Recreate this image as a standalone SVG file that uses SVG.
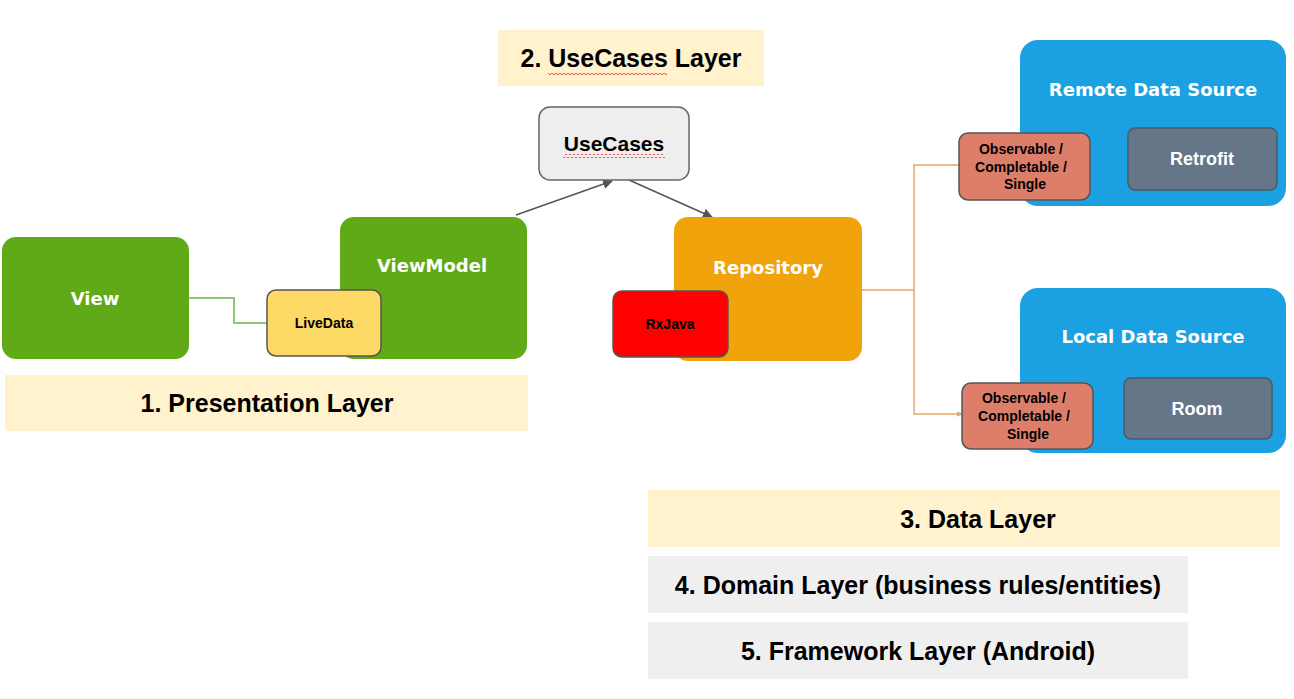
<svg xmlns="http://www.w3.org/2000/svg" width="1294" height="699" viewBox="0 0 1294 699">
<style>
.band{fill:#fff2cc}
.gband{fill:#efefef}
.lt{font-family:"Liberation Sans",Arial,sans-serif;font-weight:bold;font-size:25px;fill:#000;text-anchor:middle;dominant-baseline:central}
.nt{font-family:"DejaVu Sans",Verdana,sans-serif;font-weight:bold;font-size:18px;fill:#fff;text-anchor:middle;dominant-baseline:central}
.st{font-family:"Liberation Sans",Arial,sans-serif;font-weight:bold;font-size:14px;fill:#000;text-anchor:middle;dominant-baseline:central}
.wt{font-family:"Liberation Sans",Arial,sans-serif;font-weight:bold;font-size:18px;fill:#fff;text-anchor:middle;dominant-baseline:central}
.green{fill:#60a917}
.orange{fill:#f0a30a}
.blue{fill:#1ba1e2}
.slate{fill:#647687;stroke:#4d5a66;stroke-width:1.5}
.obs{fill:#dd7e6b;stroke:#555;stroke-width:1.5}
.arrow{fill:none;stroke:#555;stroke-width:1.5}
</style>
<defs>
<marker id="ah" viewBox="0 0 10 10" refX="9" refY="5" markerWidth="10" markerHeight="10" orient="auto" markerUnits="userSpaceOnUse">
<path d="M0,0 L10,5 L0,10 z" fill="#555"/>
</marker>
<marker id="ahO" viewBox="0 0 10 10" refX="9" refY="5" markerWidth="6" markerHeight="6" orient="auto" markerUnits="userSpaceOnUse">
<path d="M0,0 L10,5 L0,10 z" fill="#e3a66a"/>
</marker>
<pattern id="squig" x="0" y="0" width="4" height="4" patternUnits="userSpaceOnUse">
<polyline points="0,0.8 2,3 4,0.8" fill="none" stroke="#e84040" stroke-width="0.9"/>
</pattern>
</defs>

<rect width="1294" height="699" fill="#fff"/>

<g id="layer-bands">
<rect class="band" x="5" y="375" width="523" height="56"/>
<text class="lt" x="267" y="403">1. Presentation Layer</text>
<rect class="band" x="498" y="30" width="266" height="56"/>
<text class="lt" x="631" y="58">2. UseCases Layer</text>
<rect x="548" y="71" width="119" height="4" fill="url(#squig)"/>
<rect class="band" x="648" y="490" width="632" height="57"/>
<text class="lt" x="978" y="519">3. Data Layer</text>
<rect class="gband" x="648" y="556" width="540" height="57"/>
<text class="lt" x="918" y="585">4. Domain Layer (business rules/entities)</text>
<rect class="gband" x="648" y="622" width="540" height="57"/>
<text class="lt" x="918" y="651">5. Framework Layer (Android)</text>
</g>

<g id="connectors">
<polyline points="189,298 234,298 234,323 267,323" fill="none" stroke="#93c47d" stroke-width="2"/>
<line class="arrow" x1="516" y1="215" x2="612" y2="181" marker-end="url(#ah)"/>
<line class="arrow" x1="629" y1="180" x2="712" y2="217" marker-end="url(#ah)"/>
<polyline points="862,290 914,290" fill="none" stroke="#e3a66a" stroke-width="1.5"/>
<polyline points="959,165 914,165 914,414 962,414" fill="none" stroke="#e3a66a" stroke-width="1.5" marker-end="url(#ahO)"/>
</g>

<g id="view">
<rect class="green" x="2" y="237" width="187" height="122" rx="14"/>
<text class="nt" x="95" y="298">View</text>
</g>

<g id="viewmodel">
<rect class="green" x="340" y="217" width="187" height="142" rx="14"/>
<text class="nt" x="432" y="265">ViewModel</text>
</g>

<g id="livedata">
<rect x="267" y="290" width="114" height="66" rx="9" fill="#ffd966" stroke="#555" stroke-width="1.5"/>
<text class="st" x="324" y="323">LiveData</text>
</g>

<g id="usecases">
<rect x="539" y="107" width="150" height="73" rx="11" fill="#eeeeee" stroke="#666" stroke-width="1.5"/>
<text class="lt" x="614" y="143" style="font-size:21px">UseCases</text>
<rect x="563" y="154" width="102" height="4" fill="url(#squig)"/>
</g>

<g id="repository">
<rect class="orange" x="674" y="217" width="188" height="144" rx="14"/>
<text class="nt" x="768" y="267">Repository</text>
</g>

<g id="rxjava">
<rect x="613" y="291" width="115" height="66" rx="9" fill="#ff0000" stroke="#555" stroke-width="1.5"/>
<text class="st" x="670" y="324">RxJava</text>
</g>

<g id="remote-data-source">
<rect class="blue" x="1020" y="40" width="266" height="166" rx="18"/>
<text class="nt" x="1153" y="89">Remote Data Source</text>
</g>

<g id="retrofit">
<rect class="slate" x="1128" y="128" width="149" height="62" rx="7"/>
<text class="wt" x="1202" y="159">Retrofit</text>
</g>

<g id="remote-observable">
<rect class="obs" x="959" y="133" width="131" height="67" rx="9"/>
<text class="st" x="1021" y="149">Observable /</text>
<text class="st" x="1021" y="167">Completable /</text>
<text class="st" x="1025" y="184">Single</text>
</g>

<g id="local-data-source">
<rect class="blue" x="1020" y="288" width="266" height="165" rx="18"/>
<text class="nt" x="1153" y="336">Local Data Source</text>
</g>

<g id="room">
<rect class="slate" x="1124" y="378" width="148" height="61" rx="7"/>
<text class="wt" x="1197" y="409">Room</text>
</g>

<g id="local-observable">
<rect class="obs" x="962" y="383" width="131" height="66" rx="9"/>
<text class="st" x="1024" y="398">Observable /</text>
<text class="st" x="1024" y="416">Completable /</text>
<text class="st" x="1028" y="434">Single</text>
</g>
</svg>
